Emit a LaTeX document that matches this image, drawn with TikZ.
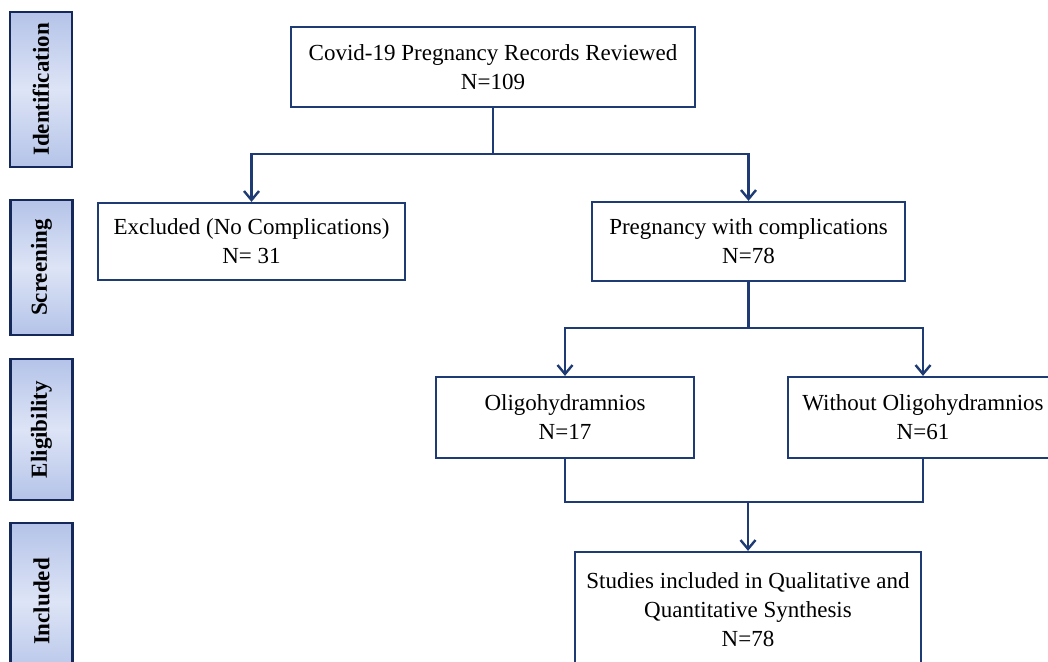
\documentclass[tikz,border=0pt]{standalone}
\usepackage{fontspec}
\setmainfont{Liberation Serif}
\usetikzlibrary{arrows.meta}
\definecolor{navy}{HTML}{1F3B73}
\definecolor{stagedark}{HTML}{14295A}
\definecolor{stageblue}{HTML}{B4C3E8}
\definecolor{stagepale}{HTML}{DDE4F6}

\begin{document}
\begin{tikzpicture}[
    x=1pt,y=-1pt,
    txt/.style={font=\fontsize{23}{29}\selectfont},
    box/.style={txt,draw=navy,line width=2.2pt,align=center,inner sep=0pt,fill=white},
    stage/.style={draw=stagedark,line width=2.4pt,rotate=90,minimum height=62pt,inner sep=0pt,
        top color=stageblue,bottom color=stageblue,middle color=stagepale,
        font=\bfseries\fontsize{23}{28}\selectfont},
    link/.style={draw=navy,line width=2.4pt},
    flow/.style={link,-{Straight Barb[length=9pt,width=15pt]}},
    ]
\def\drop{46} % length of the stub below a box before it splits

    \useasboundingbox (0,0) rectangle (1048,661);
    \clip (0,0) rectangle (1048,661);

    %% Stage labels on the left
    \node[stage,minimum width=155pt] (ident) at (41,89.5) {Identification};
    \node[stage,minimum width=135pt] (screen) at (41.5,267.5) {Screening};
    \node[stage,minimum width=141pt] (elig) at (41.5,429.5) {Eligibility};
    \node[stage,minimum width=157pt] (inc) at (41.5,601.5) {Included};

    %% Boxes of the flow
    \node[box,minimum width=404pt,minimum height=80pt] (rec) at (493,67)
        {Covid-19 Pregnancy Records Reviewed\\N=109};
    \node[box,minimum width=307pt,minimum height=77pt] (excl) at (251.5,241.5)
        {Excluded (No Complications)\\N= 31};
    \node[box,minimum width=313pt,minimum height=79pt] (compl) at (748.5,241.5)
        {Pregnancy with complications\\N=78};
    \node[box,minimum width=258pt,minimum height=81pt] (oligo) at (565,417.5)
        {Oligohydramnios\\N=17};
    \node[box,minimum width=270pt,minimum height=81pt] (without) at (923,417.5)
        {Without Oligohydramnios\\N=61};
    \node[box,minimum width=346pt,minimum height=115pt] (incl) at (748,609.5)
        {Studies included in Qualitative and\\Quantitative Synthesis\\N=78};

    %% Connectors
    \path (rec.south) ++(0,\drop) coordinate (split1);
    \draw[link] (rec.south) -- (split1);
    \draw[flow] (split1) -| (excl.north);
    \draw[flow] (split1) -| (compl.north);

    \path (compl.south) ++(0,\drop) coordinate (split2);
    \draw[link] (compl.south) -- (split2);
    \draw[flow] (split2) -| (oligo.north);
    \draw[flow] (split2) -| (without.north);

    % Both branches join again above the last box
    \coordinate (join) at (748,502);
    \draw[link] (oligo.south) |- (join) -| (without.south);
    \draw[flow] (join) -- (incl.north);
    %%
\end{tikzpicture}
\end{document}
